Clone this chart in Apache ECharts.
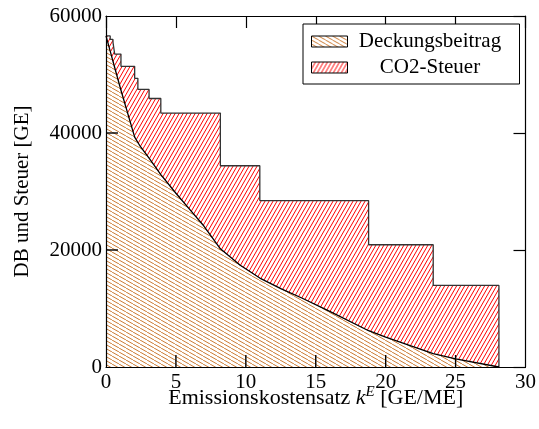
<!DOCTYPE html>
<html><head><meta charset="utf-8">
<script src="https://cdn.jsdelivr.net/npm/echarts@6/dist/echarts.min.js"></script>
<style>html,body{margin:0;padding:0;background:#fff}#c{width:539px;height:429px}</style>
</head><body><div id="c"></div>
<script>
// Upper boundary (DB + CO2-Steuer), step function: value holds until next x
const stepX  = [0, 0.3, 0.5, 0.62, 1.07, 2.05, 2.28, 3.08, 3.92, 8.18, 11.0, 18.78, 23.4, 28.1];
const totalY = [56600, 56000, 55500, 53500, 51400, 49350, 47450, 45900, 43400, 34400, 28450, 20900, 13950, 0];
// Deckungsbeitrag curve
const dbX = [0, 0.3, 0.62, 1.07, 2.05, 2.4, 3.08, 3.92, 5, 6, 7, 8.18, 9.6, 11.0, 12.5, 14, 16, 18.78, 20, 23.4, 25, 28.1];
const dbY = [56600, 54000, 51200, 47300, 39300, 37900, 35700, 32900, 29700, 26900, 24100, 20200, 17400, 15200, 13400, 11800, 9500, 6200, 5100, 2300, 1400, 0];
const seriesNames = ['Deckungsbeitrag', 'CO2-Steuer'];
// inner tick positions on bottom and left edges
const xTicks = [5, 10, 15, 20, 25];
const yTicks = [20000, 40000];

function hatch(w, h, color, dir) {
  const c = document.createElement('canvas');
  c.width = w; c.height = h;
  const g = c.getContext('2d');
  g.fillStyle = '#fff'; g.fillRect(0, 0, w, h);
  g.strokeStyle = color; g.lineWidth = 1;
  for (const s of [-w, 0, w]) {
    g.beginPath();
    if (dir === 'ne') { g.moveTo(s, h); g.lineTo(s + w, 0); }
    else { g.moveTo(s, 0); g.lineTo(s + w, h); }
    g.stroke();
  }
  return { image: c, repeat: 'repeat' };
}
const orangePat = hatch(7, 4, '#cc7a33', 'nw');
const redPat = hatch(4, 7, '#ff0000', 'ne');

const font = 'Liberation Serif';
const TL = 12;
const chart = echarts.init(document.getElementById('c'), null, { renderer: 'canvas' });
const axisLine = { show: true, onZero: false, lineStyle: { color: '#000', width: 1.2 } };
const tick = { show: true, inside: true, length: TL, lineStyle: { color: '#000', width: 1.2 } };
const tickData = xTicks.map(v => [v, 0, 0]).concat(yTicks.map(v => [0, v, 1]));
chart.setOption({
  animation: false,
  backgroundColor: '#fff',
  grid: { left: 106, right: 11, top: 16, bottom: 62 },
  legend: {
    zlevel: 2, z: 20,
    orient: 'vertical', left: 303, top: 24,
    padding: [7, 12, 6, 8], itemGap: 5,
    itemWidth: 36, itemHeight: 11,
    backgroundColor: '#fff', borderColor: '#000', borderWidth: 1, borderRadius: 0,
    textStyle: { fontFamily: font, fontSize: 21, color: '#000', rich: { a: { width: 155, align: 'center', fontFamily: font, fontSize: 21, lineHeight: 22 } } },
    formatter: n => '{a|' + n + '}',
    data: [
      { name: seriesNames[0], icon: 'rect', itemStyle: { color: orangePat, borderColor: '#000', borderWidth: 1 } },
      { name: seriesNames[1], icon: 'rect', itemStyle: { color: redPat, borderColor: '#000', borderWidth: 1 } }
    ]
  },
  xAxis: [{
    type: 'value', min: 0, max: 30, interval: 5, position: 'bottom', zlevel: 1, z: 10,
    axisLine, axisTick: { show: false }, splitLine: { show: false },
    axisLabel: { fontFamily: font, fontSize: 21, color: '#000', margin: 5 },
    name: 'Emissionskostensatz {i|k}{s|E} [GE/ME]', nameLocation: 'middle', nameGap: 18, nameMoveOverlap: false,
    nameTextStyle: { fontFamily: font, fontSize: 22, color: '#000',
      rich: { i: { fontFamily: font, fontSize: 22, fontStyle: 'italic' }, s: { fontFamily: font, fontSize: 15, fontStyle: 'italic', padding: [0, 0, 12, 0] } } }
  }, {
    type: 'value', min: 0, max: 30, interval: 5, position: 'top', zlevel: 1, z: 10,
    axisLine, axisTick: tick, axisLabel: { show: false }, splitLine: { show: false }
  }],
  yAxis: [{
    type: 'value', min: 0, max: 60000, interval: 20000, position: 'left', zlevel: 1, z: 10,
    axisLine, axisTick: { show: false }, splitLine: { show: false },
    axisLabel: { fontFamily: font, fontSize: 21, color: '#000', margin: 4, formatter: v => String(v) },
    name: 'DB und Steuer [GE]', nameLocation: 'middle', nameGap: 73, nameMoveOverlap: false,
    nameTextStyle: { fontFamily: font, fontSize: 21, color: '#000' }
  }, {
    type: 'value', min: 0, max: 60000, interval: 20000, position: 'right', zlevel: 1, z: 10,
    axisLine, axisTick: tick, axisLabel: { show: false }, splitLine: { show: false }
  }],
  series: [{
    name: seriesNames[1], type: 'line', step: 'end', symbol: 'none',
    data: stepX.map((x, i) => [x, totalY[i]]),
    lineStyle: { color: '#333', width: 1.3 },
    itemStyle: { color: '#ff0000' },
    areaStyle: { color: redPat, opacity: 1 }, zlevel: 0, z: 2
  }, {
    name: seriesNames[0], type: 'line', symbol: 'none',
    data: dbX.map((x, i) => [x, dbY[i]]),
    lineStyle: { color: '#000', width: 1.3 },
    itemStyle: { color: '#cc7a33' },
    areaStyle: { color: orangePat, opacity: 1 }, zlevel: 0, z: 3
  }, {
    name: 'ticks', type: 'custom', zlevel: 1, z: 12, silent: true, legendHoverLink: false,
    data: tickData,
    renderItem: (params, api) => {
      const p = api.coord([api.value(0), api.value(1)]);
      const vert = api.value(2) === 0;
      return {
        type: 'line',
        shape: vert ? { x1: p[0], y1: p[1], x2: p[0], y2: p[1] - TL } : { x1: p[0], y1: p[1], x2: p[0] + TL, y2: p[1] },
        style: { stroke: '#000', lineWidth: 1.4 }
      };
    }
  }]
});
</script>
</body></html>
